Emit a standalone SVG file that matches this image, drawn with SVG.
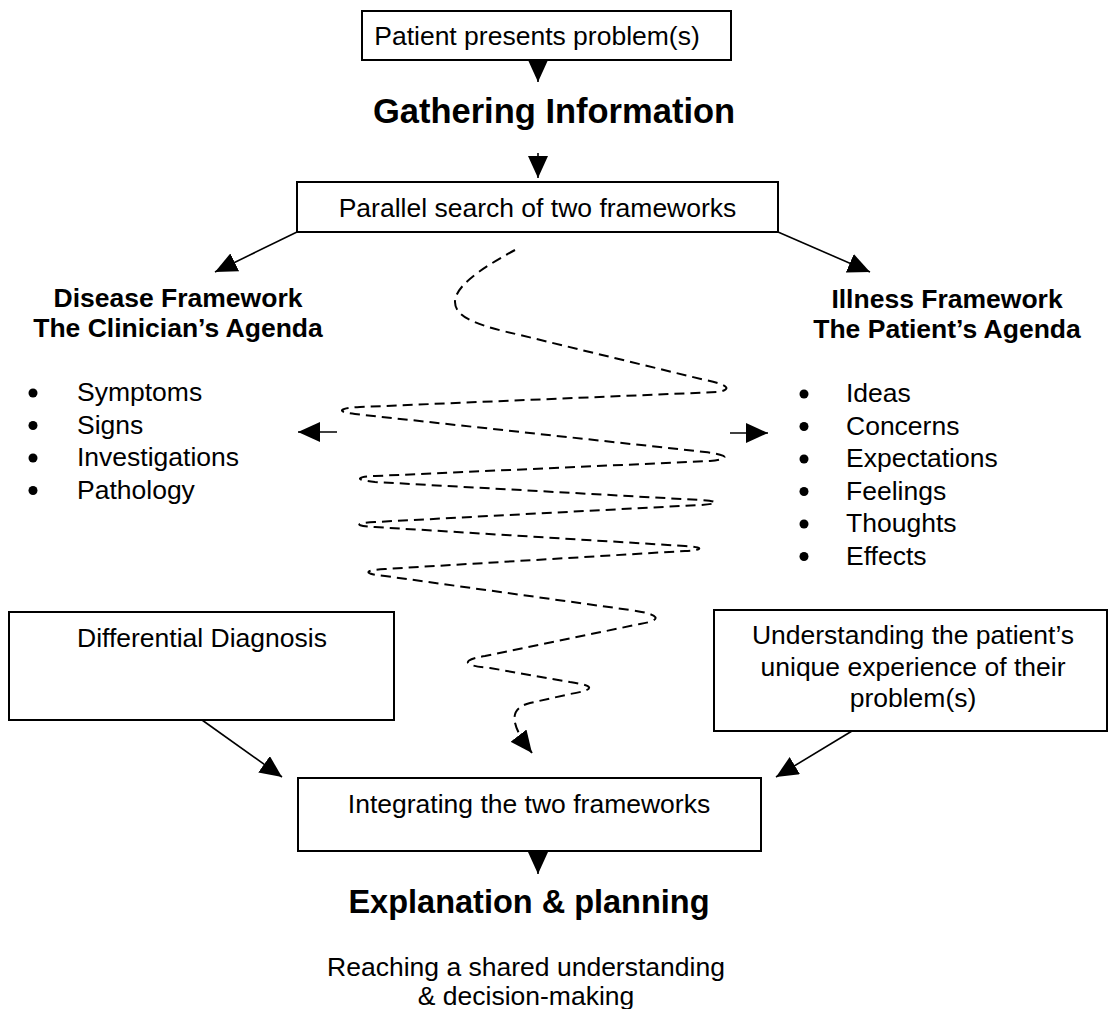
<svg xmlns="http://www.w3.org/2000/svg" width="1110" height="1009" viewBox="0 0 1110 1009">
  <style>
    text { font-family: "Liberation Sans", Arial, sans-serif; fill: #000; }
    .t { font-size: 26.5px; }
    .c { text-anchor: middle; }
    .h1 { font-size: 34.5px; font-weight: bold; }
    .h1s { font-size: 32.5px; font-weight: bold; }
    .h2 { font-size: 26.5px; font-weight: bold; }
    .dot { fill: #000; }
    .box { fill: #fff; stroke: #000; stroke-width: 2; }
    .ln { fill: none; stroke: #000; stroke-width: 1.6; marker-end: url(#ah); }
    .wig { fill: none; stroke: #000; stroke-width: 2; stroke-dasharray: 10 6; marker-end: url(#ah); }
  </style>
  <defs>
    <marker id="ah" viewBox="0 0 22 20" refX="22" refY="10" markerWidth="22" markerHeight="20" markerUnits="userSpaceOnUse" orient="auto">
      <path d="M0,0 L22,10 L0,20 z" fill="#000"/>
    </marker>
  </defs>

  <rect width="1110" height="1009" fill="#fff"/>

  <!-- connectors -->
  <g id="connectors">
    <line class="ln" x1="538" y1="60" x2="538" y2="82"/>
    <line class="ln" x1="538" y1="153" x2="538" y2="178"/>
    <line class="ln" x1="297" y1="232" x2="215" y2="272"/>
    <line class="ln" x1="778" y1="232" x2="870" y2="272"/>
    <line class="ln" x1="337" y1="432" x2="298" y2="432"/>
    <line class="ln" x1="730" y1="433" x2="768" y2="433"/>
    <line class="ln" x1="202" y1="720" x2="282" y2="777"/>
    <line class="ln" x1="852" y1="731" x2="776" y2="777"/>
    <line class="ln" x1="538" y1="851" x2="538" y2="874"/>
    <!-- back-and-forth search between the two frameworks -->
    <path class="wig" d="M515,250 C478,270 455,287 455,302 C455,318 480,326 520,335 L705,380 C726,384 734,389 718,392 L360,407 C338,408 336,412 355,414 L705,452 C730,455 730,459 710,461 L375,476 C355,477 355,480 375,482 L700,500 C720,501 720,504 700,505 L375,522 C354,523 354,526 375,527 L685,546 C704,547 704,550 685,551 L385,569 C363,570 363,574 385,576 L630,610 C660,614 664,620 640,624 L485,656 C460,660 463,666 490,668 L570,682 C597,686 594,690 570,694 L530,703 C510,708 508,722 532,753"/>
  </g>

  <g id="patient-presents">
    <rect class="box" x="362" y="11" width="369" height="49"/>
    <text class="t c" x="537" y="45">Patient presents problem(s)</text>
  </g>

  <g id="gathering">
    <text class="h1 c" x="554" y="123">Gathering Information</text>
  </g>

  <g id="parallel-search">
    <rect class="box" x="297" y="182" width="481" height="50"/>
    <text class="t c" x="537.5" y="217">Parallel search of two frameworks</text>
  </g>

  <g id="disease-framework">
    <text class="h2 c" x="178" y="307">Disease Framework</text>
    <text class="h2 c" x="178" y="337">The Clinician’s Agenda</text>
    <g class="dot">
      <circle cx="33" cy="393" r="4.5"/>
      <circle cx="33" cy="425.5" r="4.5"/>
      <circle cx="33" cy="458" r="4.5"/>
      <circle cx="33" cy="490.5" r="4.5"/>
    </g>
    <g class="t">
      <text x="77" y="401">Symptoms</text>
      <text x="77" y="433.5">Signs</text>
      <text x="77" y="466">Investigations</text>
      <text x="77" y="498.5">Pathology</text>
    </g>
  </g>

  <g id="illness-framework">
    <text class="h2 c" x="947" y="308">Illness Framework</text>
    <text class="h2 c" x="947" y="338">The Patient’s Agenda</text>
    <g class="dot">
      <circle cx="804" cy="394" r="4.5"/>
      <circle cx="804" cy="426.5" r="4.5"/>
      <circle cx="804" cy="459" r="4.5"/>
      <circle cx="804" cy="491.5" r="4.5"/>
      <circle cx="804" cy="524" r="4.5"/>
      <circle cx="804" cy="556.5" r="4.5"/>
    </g>
    <g class="t">
      <text x="846" y="402">Ideas</text>
      <text x="846" y="434.5">Concerns</text>
      <text x="846" y="467">Expectations</text>
      <text x="846" y="499.5">Feelings</text>
      <text x="846" y="532">Thoughts</text>
      <text x="846" y="564.5">Effects</text>
    </g>
  </g>

  <g id="differential-diagnosis">
    <rect class="box" x="9" y="612" width="385" height="108"/>
    <text class="t c" x="202" y="647">Differential Diagnosis</text>
  </g>

  <g id="understanding-patient">
    <rect class="box" x="714" y="610" width="393" height="121"/>
    <text class="t c" x="913" y="644">Understanding the patient’s</text>
    <text class="t c" x="913" y="676">unique experience of their</text>
    <text class="t c" x="913" y="707">problem(s)</text>
  </g>

  <g id="integrating">
    <rect class="box" x="298" y="778" width="463" height="73"/>
    <text class="t c" x="529" y="813">Integrating the two frameworks</text>
  </g>

  <g id="explanation-planning">
    <text class="h1s c" x="529" y="913">Explanation &amp; planning</text>
    <text class="t c" x="526" y="976">Reaching a shared understanding</text>
    <text class="t c" x="526" y="1005">&amp; decision-making</text>
  </g>
</svg>
